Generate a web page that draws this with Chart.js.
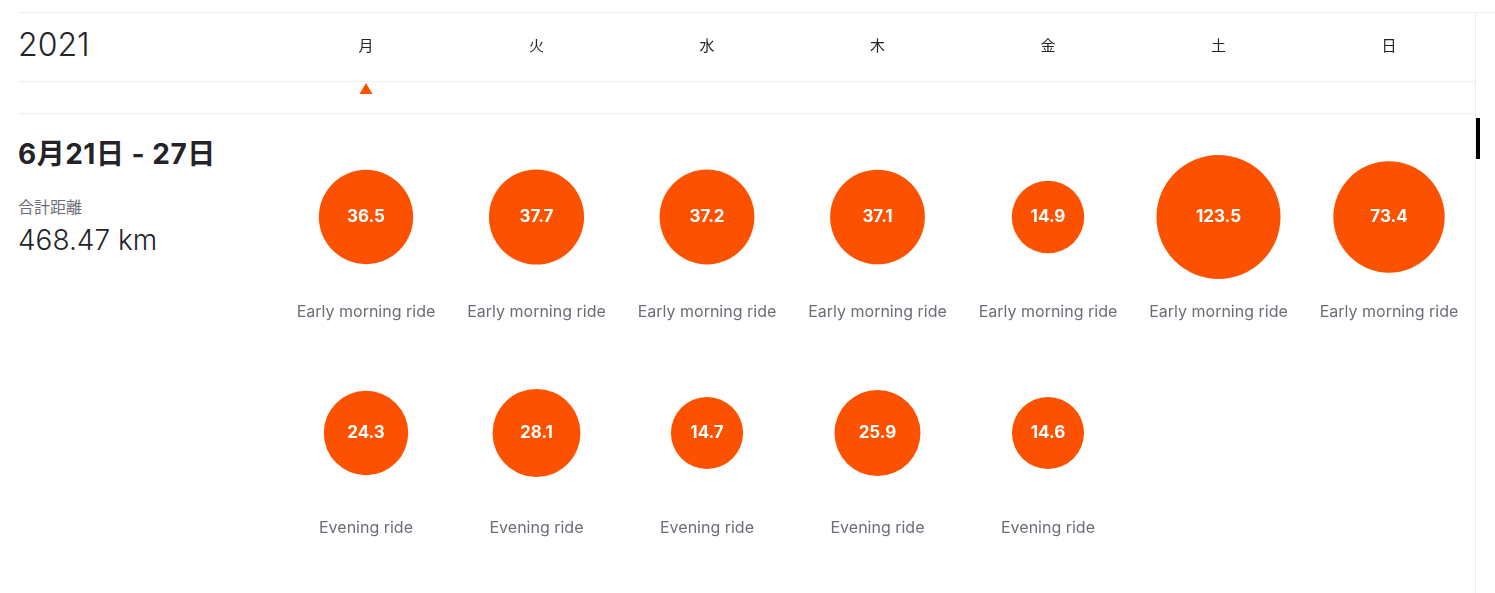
<!DOCTYPE html>
<html lang="ja">
<head>
<meta charset="UTF-8">
<title>Weekly rides</title>
<script src="https://cdn.jsdelivr.net/npm/chart.js"></script>
<style>
    body {
        margin: 0;
        background: #fff;
        font-family: Inter, "Noto Sans CJK JP", sans-serif;
        color: #242428;
        overflow: hidden;
    }
    .wrap { position: relative; width: 1495px; height: 593px; }
    .line { position: absolute; background: #eeeeee; }
    .year { position: absolute; left: 18px; top: 25px; font-size: 32px; line-height: 40px; font-weight: 300; }
    .week { position: absolute; left: 18px; top: 134px; font-size: 28px; line-height: 40px; font-weight: bold; letter-spacing: 0.5px; font-family: Inter, "Noto Sans CJK JP", sans-serif; }
    .sub { position: absolute; left: 18px; top: 195px; font-size: 16px; line-height: 22px; color: #6d6d78; font-family: "Noto Sans CJK JP", sans-serif; }
    .total { position: absolute; left: 18px; top: 222px; font-size: 28px; line-height: 36px; font-weight: 300; }
    .bar { position: absolute; left: 1476px; top: 118px; width: 4px; height: 41px; background: #000; }
    canvas { position: absolute; left: 0; top: 0; }
</style>
</head>
<body>
<div class="wrap">
    <div class="line" style="left:18px;top:12px;width:1477px;height:1px"></div>
    <div class="line" style="left:18px;top:81px;width:1457px;height:1px"></div>
    <div class="line" style="left:18px;top:113px;width:1457px;height:1px"></div>
    <div class="line" style="left:1475px;top:12px;width:1px;height:581px"></div>
    <div class="year">2021</div>
    <div class="week">6月21日 - 27日</div>
    <div class="sub">合計距離</div>
    <div class="total">468.47 km</div>
    <div class="bar"></div>
    <canvas id="rides" width="1495" height="593"></canvas>
</div>

<script>
    const days = ['月', '火', '水', '木', '金', '土', '日'];
    const rideNames = ['Early morning ride', 'Evening ride'];
    const morning = [36.5, 37.7, 37.2, 37.1, 14.9, 123.5, 73.4];
    const evening = [24.3, 28.1, 14.7, 25.9, 14.6, null, null];
    const selectedDay = '月';
    const orange = '#fc5200';

    // bubble size grows with the log of the distance
    function radius(km) {
        return 3.35 + 12.18 * Math.log(km);
    }

    function toPoints(values, row) {
        const pts = [];
        values.forEach((v, i) => {
            if (v !== null) pts.push({ x: days[i], y: rideNames[row], r: radius(v), km: v });
        });
        return pts;
    }

    const labelsPlugin = {
        id: 'rideLabels',
        afterDatasetsDraw(chart) {
            const ctx = chart.ctx;
            const xs = chart.scales.x;
            ctx.save();
            ctx.textAlign = 'center';
            ctx.textBaseline = 'middle';

            // day names along the top
            ctx.font = '15px "Noto Sans CJK JP", sans-serif';
            ctx.fillStyle = '#242428';
            days.forEach(d => ctx.fillText(d, xs.getPixelForValue(d), 45));

            // marker under the selected day
            const mx = xs.getPixelForValue(selectedDay);
            ctx.fillStyle = orange;
            ctx.beginPath();
            ctx.moveTo(mx, 83);
            ctx.lineTo(mx + 6.5, 94);
            ctx.lineTo(mx - 6.5, 94);
            ctx.closePath();
            ctx.fill();

            chart.data.datasets.forEach((ds, di) => {
                const meta = chart.getDatasetMeta(di);
                meta.data.forEach((el, i) => {
                    const p = ds.data[i];
                    ctx.fillStyle = '#ffffff';
                    ctx.font = 'bold 17px Inter, sans-serif';
                    ctx.fillText(p.km.toFixed(1), el.x, el.y);
                    ctx.fillStyle = '#6d6d78';
                    ctx.font = '16px Inter, sans-serif';
                    ctx.fillText(p.y, el.x, el.y + 95);
                });
            });
            ctx.restore();
        }
    };

    new Chart(document.getElementById('rides'), {
        type: 'bubble',
        data: {
            datasets: [
                { data: toPoints(morning, 0), backgroundColor: orange, borderWidth: 0 },
                { data: toPoints(evening, 1), backgroundColor: orange, borderWidth: 0 }
            ]
        },
        options: {
            responsive: false,
            animation: false,
            events: [],
            clip: false,
            layout: { autoPadding: false, padding: { left: 280.75, right: 20.75, top: 109, bottom: 52 } },
            scales: {
                x: { type: 'category', labels: days, offset: true, display: false },
                y: { type: 'category', labels: rideNames, offset: true, display: false }
            },
            plugins: {
                legend: { display: false },
                tooltip: { enabled: false }
            }
        },
        plugins: [labelsPlugin]
    });
</script>
</body>
</html>
